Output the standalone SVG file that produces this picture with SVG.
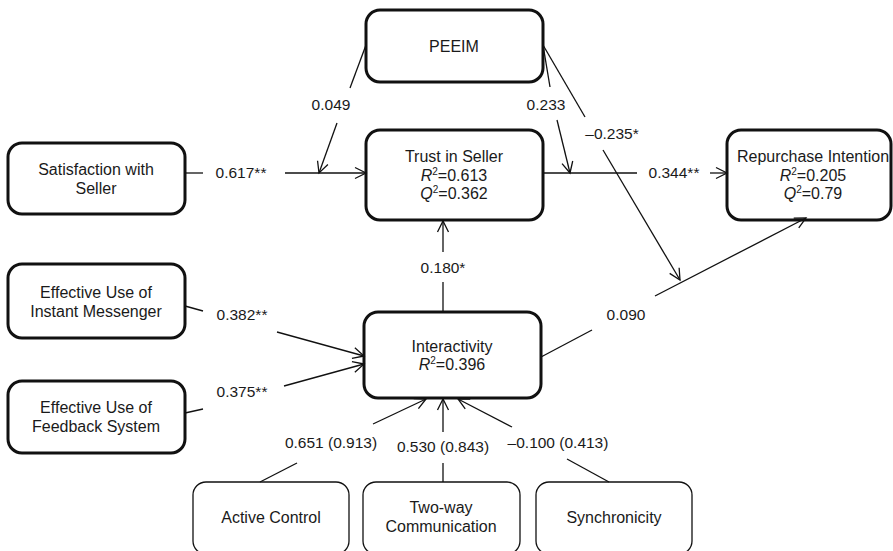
<svg xmlns="http://www.w3.org/2000/svg" width="893" height="551" viewBox="0 0 893 551">
<defs>
<marker id="arr" markerUnits="userSpaceOnUse" markerWidth="12" markerHeight="12" refX="11" refY="5.5" orient="auto" overflow="visible">
<path d="M0,0 L11,5.5 L0,11" fill="none" stroke="#111" stroke-width="1.3"/>
</marker>
<style>
.bt{fill:#fff;stroke:#111;stroke-width:3}
.bn{fill:#fff;stroke:#111;stroke-width:1.3}
text{font-family:"Liberation Sans",Arial,sans-serif;font-size:16px;fill:#1a1a1a;text-anchor:middle}
.c text{font-size:15.5px}
.c line{stroke:#111;stroke-width:1.3}
.a{marker-end:url(#arr)}
.s{font-size:10px}
.i{font-style:italic}
</style>
</defs>
<rect width="893" height="551" fill="#fff"/>

<g id="peeim"><rect class="bt" x="366" y="10" width="177" height="72" rx="14"/><text x="454" y="52">PEEIM</text></g>
<g id="trust"><rect class="bt" x="366" y="130" width="177" height="90" rx="14"/>
<text x="454" y="162">Trust in Seller</text>
<text x="454" y="181"><tspan class="i">R</tspan><tspan class="s" dy="-6">2</tspan><tspan dy="6">=0.613</tspan></text>
<text x="454" y="199"><tspan class="i">Q</tspan><tspan class="s" dy="-6">2</tspan><tspan dy="6">=0.362</tspan></text></g>
<g id="satisfaction"><rect class="bt" x="8" y="143" width="177" height="71" rx="14"/>
<text x="96" y="175">Satisfaction with</text><text x="96" y="194">Seller</text></g>
<g id="repurchase"><rect class="bt" x="727" y="130" width="164" height="90" rx="14"/>
<text x="813" y="162">Repurchase Intention</text>
<text x="813" y="181"><tspan class="i">R</tspan><tspan class="s" dy="-6">2</tspan><tspan dy="6">=0.205</tspan></text>
<text x="813" y="199"><tspan class="i">Q</tspan><tspan class="s" dy="-6">2</tspan><tspan dy="6">=0.79</tspan></text></g>
<g id="euim"><rect class="bt" x="8" y="264" width="177" height="74" rx="14"/>
<text x="96" y="298">Effective Use of</text><text x="96" y="317">Instant Messenger</text></g>
<g id="eufs"><rect class="bt" x="8" y="381" width="177" height="72" rx="14"/>
<text x="96" y="413">Effective Use of</text><text x="96" y="432">Feedback System</text></g>
<g id="interactivity"><rect class="bt" x="364" y="312" width="177" height="86" rx="14"/>
<text x="452" y="352">Interactivity</text>
<text x="452" y="370"><tspan class="i">R</tspan><tspan class="s" dy="-6">2</tspan><tspan dy="6">=0.396</tspan></text></g>
<g id="active"><rect class="bn" x="193" y="482" width="156" height="72" rx="13"/><text x="271" y="523">Active Control</text></g>
<g id="twoway"><rect class="bn" x="363" y="482" width="157" height="72" rx="13"/><text x="441" y="513">Two-way</text><text x="441" y="532">Communication</text></g>
<g id="sync"><rect class="bn" x="536" y="482" width="156" height="72" rx="13"/><text x="614" y="523">Synchronicity</text></g>

<g id="connectors" class="c">
<line x1="185" y1="173" x2="203" y2="173"/><line class="a" x1="285" y1="173" x2="366" y2="173"/>
<text x="241" y="178">0.617**</text>
<line x1="366" y1="45" x2="350" y2="88"/><line class="a" x1="337" y1="123" x2="319" y2="173"/>
<text x="331" y="110">0.049</text>
<line x1="543" y1="45" x2="550" y2="87"/><line class="a" x1="557" y1="120" x2="570" y2="173"/>
<text x="546" y="110">0.233</text>
<line x1="543" y1="45" x2="585" y2="117"/><line class="a" x1="603" y1="150" x2="680" y2="280"/>
<text x="612" y="139">–0.235*</text>
<line x1="543" y1="173" x2="637" y2="173"/><line class="a" x1="710" y1="173" x2="727" y2="173"/>
<text x="674" y="178">0.344**</text>
<line x1="443" y1="312" x2="443" y2="282"/><line class="a" x1="443" y1="252" x2="443" y2="221"/>
<text x="443" y="273">0.180*</text>
<line x1="541" y1="357" x2="592" y2="330"/><line class="a" x1="655" y1="296" x2="806" y2="218"/>
<text x="626" y="320">0.090</text>
<line x1="185" y1="306" x2="203" y2="311"/><line class="a" x1="277" y1="332" x2="364" y2="356"/>
<text x="242" y="320">0.382**</text>
<line x1="185" y1="413" x2="203" y2="409"/><line class="a" x1="284" y1="386" x2="364" y2="364"/>
<text x="242" y="397">0.375**</text>
<line x1="260" y1="482" x2="297" y2="463"/><line class="a" x1="373" y1="424" x2="426" y2="399"/>
<text x="331" y="448">0.651 (0.913)</text>
<line x1="443" y1="482" x2="443" y2="463"/><line class="a" x1="443" y1="432" x2="443" y2="399"/>
<text x="443" y="452">0.530 (0.843)</text>
<line x1="609" y1="482" x2="567" y2="459"/><line class="a" x1="512" y1="427" x2="458" y2="399"/>
<text x="558" y="448">–0.100 (0.413)</text>
</g>
</svg>
